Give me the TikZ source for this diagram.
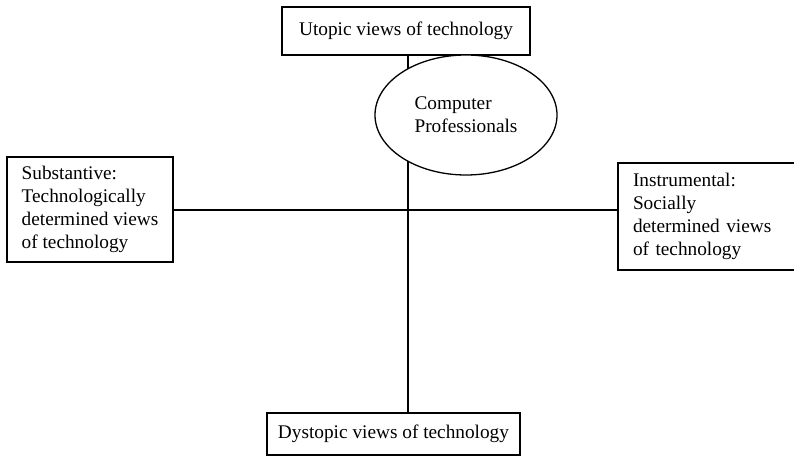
\documentclass[tikz,border=0pt]{standalone}
\usepackage{fontspec}
\setmainfont{Liberation Serif}
\usetikzlibrary{shapes.geometric}
\begin{document}
\begin{tikzpicture}[x=1pt,y=-1pt,
  txt/.style={font=\fontsize{19.3}{23}\selectfont},
  box/.style={draw, line width=1.3pt, fill=white, inner sep=0pt, txt},
  oval/.style={draw, ellipse, line width=1.3pt, fill=white, inner sep=0pt, txt, align=left},
  conn/.style={line width=1.3pt}]
\useasboundingbox (0,0) rectangle (794,458);
\node[box, minimum width=248, minimum height=48] (top) at (406,31) {Utopic views of technology};
\node[box, minimum width=253, minimum height=42] (bot) at (393.5,434) {Dystopic views of technology};
\node[box, minimum width=166, minimum height=105, align=left] (left) at (90,209.5)
  {Substantive:\\Technologically\\determined views\\of technology};
\node[box, inner xsep=15, minimum height=107, text width=170, align=left] (right) at (718,216.5)
  {Instrumental:\\Socially\\determined views\\of technology};
\coordinate (vx) at (408,0);
\coordinate (hy) at (0,210);
\draw[conn] (vx |- top.south) -- (vx |- bot.north);
\draw[conn] (left.east |- hy) -- (right.west |- hy);
\node[oval, minimum width=182, minimum height=120] (cp) at (466,115) {Computer\\Professionals};
\end{tikzpicture}
\end{document}
